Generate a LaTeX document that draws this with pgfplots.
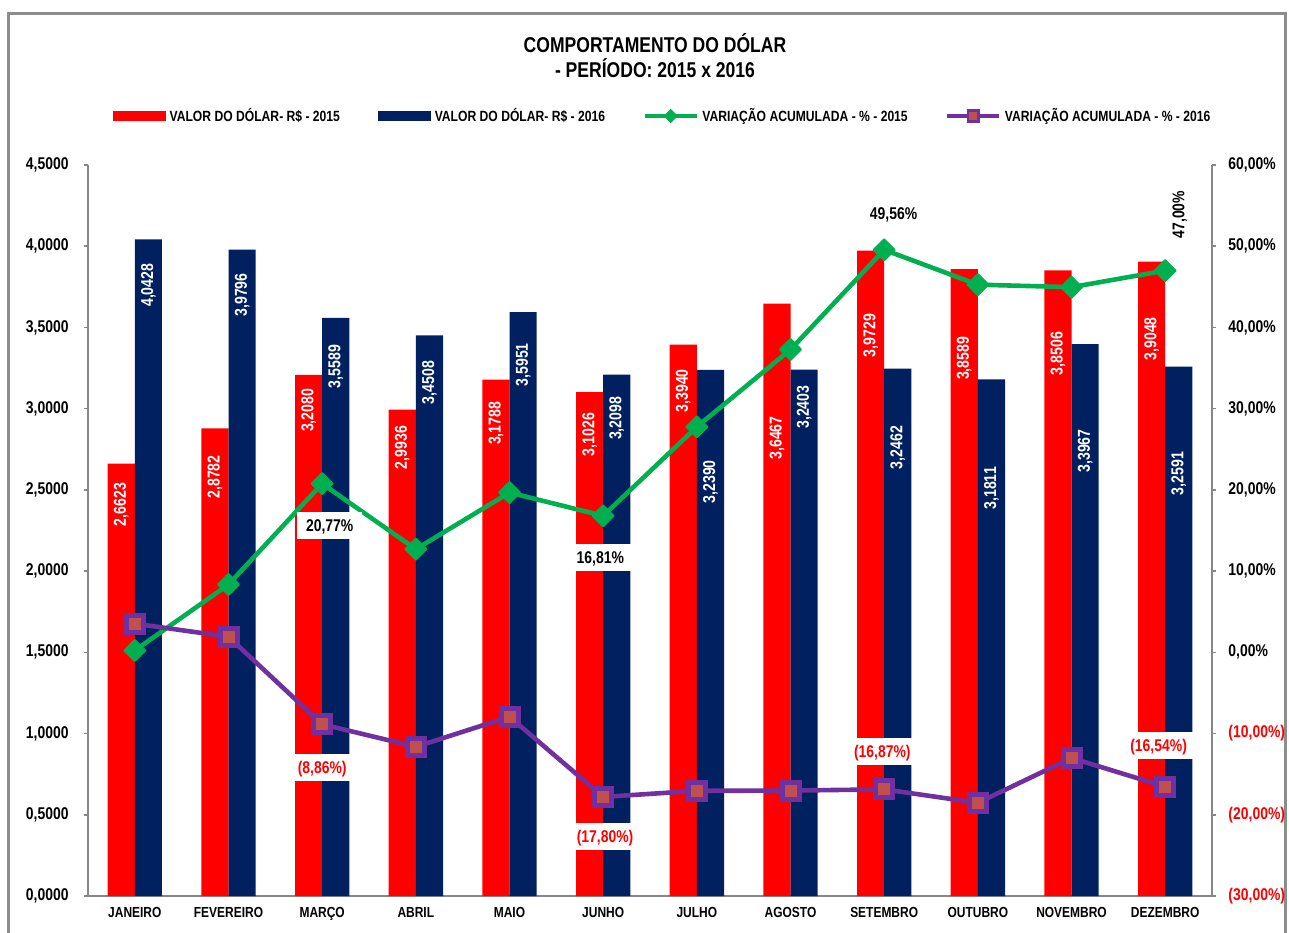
\documentclass[border=0pt]{standalone}
\usepackage{fontspec}
\setmainfont{Liberation Sans}[FakeStretch=0.82]
\usepackage{pgfplots}
\usepackage{pgfplotstable}
\pgfplotsset{compat=1.18}

\definecolor{barred}{HTML}{FF0000}
\definecolor{barnavy}{HTML}{002060}
\definecolor{lngreen}{HTML}{00B050}
\definecolor{lnpurple}{HTML}{7030A0}
\definecolor{mkfill}{HTML}{C0504D}
\definecolor{axgray}{HTML}{868686}

% valor do dolar (R$); l15/l16 = altura onde fica o rotulo da barra
\pgfplotstableread{
x  v15    l15   v16    l16
0  2.6623 2.41  4.0428 3.76
1  2.8782 2.58  3.9796 3.70
2  3.2080 2.99  3.5589 3.26
3  2.9936 2.76  3.4508 3.16
4  3.1788 2.91  3.5951 3.27
5  3.1026 2.84  3.2098 2.94
6  3.3940 3.11  3.2390 2.55
7  3.6467 2.82  3.2403 3.01
8  3.9729 3.45  3.2462 2.76
9  3.8589 3.31  3.1811 2.51
10 3.8506 3.34  3.3967 2.74
11 3.9048 3.43  3.2591 2.60
}\dolar

% variacao acumulada (%)
\pgfplotstableread{
x  p15   p16
0  0.23  3.53
1  8.35  1.92
2  20.77 -8.86
3  12.70 -11.63
4  19.67 -7.93
5  16.81 -17.80
6  27.77 -17.05
7  37.28 -17.02
8  49.56 -16.87
9  45.27 -18.53
10 44.96 -13.01
11 47.00 -16.54
}\variacao

\pgfplotsset{
  eixo/.style={
    scale only axis, width=562pt, height=365.5pt,
    at={(44pt,18pt)}, anchor=south west,
    xmin=-0.5, xmax=11.5, clip=false,
    tick align=outside, major tick length=2.2pt, minor tick length=2.2pt,
    axis line style={draw=axgray, line width=0.8pt},
    every tick/.style={draw=axgray, line width=0.8pt},
    tick label style={font=\bfseries\fontsize{8.5}{10}\selectfont},
  },
  rotbar/.style={draw=none, mark=none, point meta=explicit,
    nodes near coords={\pgfmathprintnumber[fixed,fixed zerofill,precision=4,use comma,assume math mode=true]{\pgfplotspointmeta}},
    nodes near coords style={anchor=center, rotate=90, text=white, inner sep=0pt,
      font=\bfseries\fontsize{8.6}{10}\selectfont}},
}
\tikzset{
  rotlin/.style={fill=white, inner xsep=4.5pt, inner ysep=3.7pt, text height=6.2pt, text depth=0pt,
    font=\bfseries\fontsize{8.5}{10}\selectfont},
}

\begin{document}
\begin{tikzpicture}
\draw[draw=gray!90, line width=1.5pt] (4pt,-5pt) rectangle (642.5pt,459pt);
\node[font=\bfseries\fontsize{10.7}{12.5}\selectfont, align=center] at (327.5pt,438.3pt)
  {COMPORTAMENTO DO DÓLAR\\- PERÍODO: 2015 x 2016};

\begin{axis}[eixo,
  ymin=0, ymax=4.5,
  axis y line*=left, axis x line*=bottom,
  ytick={0,0.5,...,4.5},
  yticklabels={{0,0000},{0,5000},{1,0000},{1,5000},{2,0000},{2,5000},{3,0000},{3,5000},{4,0000},{4,5000}},
  yticklabel style={xshift=-4pt},
  xtick={0,...,11}, xtick style={draw=none},
  xticklabels={JANEIRO,FEVEREIRO,MARÇO,ABRIL,MAIO,JUNHO,JULHO,AGOSTO,SETEMBRO,OUTUBRO,NOVEMBRO,DEZEMBRO},
  xticklabel style={font=\bfseries\fontsize{7.3}{9}\selectfont},
  minor xtick={-0.5,0.5,...,11.5},
  bar width=0.29,
]
\addplot[ybar, bar shift=-0.145, fill=barred, draw=none] table[x=x, y=v15] {\dolar};
\addplot[ybar, bar shift=0.145, fill=barnavy, draw=none] table[x=x, y=v16] {\dolar};
\addplot[rotbar] table[x expr=\thisrow{x}-0.145, y=l15, meta=v15] {\dolar};
\addplot[rotbar] table[x expr=\thisrow{x}+0.145, y=l16, meta=v16] {\dolar};
\end{axis}

\begin{axis}[eixo,
  ymin=-30, ymax=60,
  axis y line*=right, axis x line=none,
  ytick={-30,-20,...,60},
  yticklabels={{\textcolor{red}{(30,00\%)}},{\textcolor{red}{(20,00\%)}},{\textcolor{red}{(10,00\%)}},
    {0,00\%},{10,00\%},{20,00\%},{30,00\%},{40,00\%},{50,00\%},{60,00\%}},
  yticklabel style={xshift=2.5pt},
  legend style={at={(0.5121,1.067)}, anchor=center, draw=none, fill=none, inner sep=0pt,
    font=\bfseries\fontsize{7.4}{9}\selectfont,
    /tikz/every even column/.append style={column sep=17pt}},
  legend columns=4, legend cell align=left,
]
\addlegendimage{legend image code/.code={\fill[barred] (0pt,-2.25pt) rectangle (26pt,2.25pt);}}
\addlegendentry{VALOR DO DÓLAR- R\$ - 2015}
\addlegendimage{legend image code/.code={\fill[barnavy] (0pt,-2.25pt) rectangle (26pt,2.25pt);}}
\addlegendentry{VALOR DO DÓLAR- R\$ - 2016}
\addlegendimage{legend image code/.code={
  \draw[lngreen, line width=1.6pt] (0pt,0pt) -- (26pt,0pt);
  \fill[lngreen, rotate around={45:(13pt,0pt)}] (10.7pt,-2.3pt) rectangle (15.3pt,2.3pt);}}
\addlegendentry{VARIAÇÃO ACUMULADA - \% - 2015}
\addlegendimage{legend image code/.code={
  \draw[lnpurple, line width=1.6pt] (0pt,0pt) -- (26pt,0pt);
  \draw[lnpurple, fill=mkfill, line width=1.3pt] (10.3pt,-2.7pt) rectangle (15.7pt,2.7pt);}}
\addlegendentry{VARIAÇÃO ACUMULADA - \% - 2016}

\addplot[forget plot, lngreen, line width=2.3pt, mark=square*, mark size=3.7pt,
  mark options={rotate=45, solid, fill=lngreen, draw=lngreen, line width=1pt, line join=round}]
  table[x=x, y=p15] {\variacao};
\addplot[forget plot, lnpurple, line width=2.3pt, mark=square*, mark size=4.25pt,
  mark options={solid, fill=mkfill, draw=lnpurple, line width=2.5pt}]
  table[x=x, y=p16] {\variacao};

\node[rotlin] at (axis cs:2.08,15.6) {20,77\%};
\node[rotlin] at (axis cs:4.97,11.7) {16,81\%};
\node[rotlin] at (axis cs:8.1,54.0) {49,56\%};
\node[rotlin, rotate=90] at (axis cs:11.14,53.9) {47,00\%};
\node[rotlin, text=red] at (axis cs:2.0,-14.2) {(8,86\%)};
\node[rotlin, text=red] at (axis cs:5.02,-22.7) {(17,80\%)};
\node[rotlin, text=red] at (axis cs:7.98,-12.2) {(16,87\%)};
\node[rotlin, text=red] at (axis cs:10.93,-11.5) {(16,54\%)};
\end{axis}
\pgfresetboundingbox
\useasboundingbox (0,0) rectangle (644.5pt,466pt);
\end{tikzpicture}
\end{document}
